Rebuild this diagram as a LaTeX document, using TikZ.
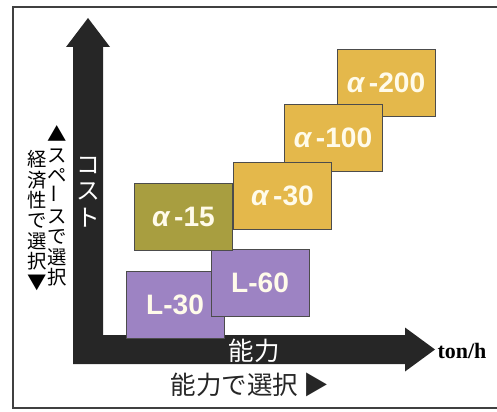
\documentclass[tikz,border=0pt]{standalone}
\usepackage{fontspec}
\usepackage{graphicx}
\newfontfamily\jpfont{Noto Sans CJK JP}
\newfontfamily\labelfont{Liberation Sans}
\newfontfamily\unitfont{Liberation Serif}
\definecolor{axisgray}{HTML}{262626}
\definecolor{lpurple}{HTML}{9D83C3}
\definecolor{aolive}{HTML}{A89E40}
\definecolor{agold}{HTML}{E4B84B}
\definecolor{labelwhite}{HTML}{FFFBEA}
\tikzset{
  modelbox/.style={draw=black!70, line width=0.5pt, minimum width=1.96cm, minimum height=1.34cm,
    inner sep=0pt, text=labelwhite, font=\labelfont\bfseries\fontsize{16}{16}\selectfont},
  sidetext/.style={align=center, inner sep=0pt, font=\jpfont\fontsize{11}{11.6}\selectfont}
}
\begin{document}
\begin{tikzpicture}
\useasboundingbox (0,0) rectangle (9.94,8.22);
\draw[black!75, line width=0.6pt] (10.2,8.08) -- (0.26,8.08) -- (0.26,0.06) -- (10.2,0.06);
% axes as one L-shaped arrow
\fill[axisgray] (1.76,7.86) -- (2.20,7.28) -- (2.06,7.28) -- (2.06,1.52) -- (8.10,1.52)
  -- (8.10,1.67) -- (8.70,1.23) -- (8.10,0.79) -- (8.10,0.94) -- (1.46,0.94)
  -- (1.46,7.28) -- (1.32,7.28) -- cycle;
\foreach \n/\x/\y/\c/\t in {a200/7.72/6.56/agold/{{\itshape α}\,-200},
    a100/6.66/5.46/agold/{{\itshape α}\,-100},
    a30/5.65/4.31/agold/{{\itshape α}\,-30},
    l30/3.50/2.12/lpurple/{L-30},
    l60/5.20/2.57/lpurple/{L-60},
    a15/3.67/3.88/aolive/{{\itshape α}\,-15}} {
  \node[modelbox, fill=\c] (\n) at (\x,\y) {\t};
}
\node[align=center, inner sep=0pt, text=white, font=\jpfont\fontsize{13.5}{15}\selectfont] (cost) at (1.76,4.38) {コ\\ス\\ト};
\node[inner sep=0pt, text=white, font=\jpfont\fontsize{14.5}{14.5}\selectfont] (power) at (5.08,1.20) {能力};
\node[inner sep=0pt, font=\unitfont\bfseries\fontsize{12.5}{12.5}\selectfont] (unit) at (9.24,1.20) {ton/h};
\node[inner sep=0pt, text=black!85, font=\jpfont\fontsize{14.5}{14.5}\selectfont] (bypower) at (5.00,0.52) {能力で選択 ▶};
\node[sidetext] (byspace) at (1.14,4.10) {▲\\ス\\ペ\\\rotatebox{90}{ー}\\ス\\で\\選\\択};
\node[sidetext] (byeconomy) at (0.74,3.81) {経\\済\\性\\で\\選\\択\\▼};
\end{tikzpicture}
\end{document}
